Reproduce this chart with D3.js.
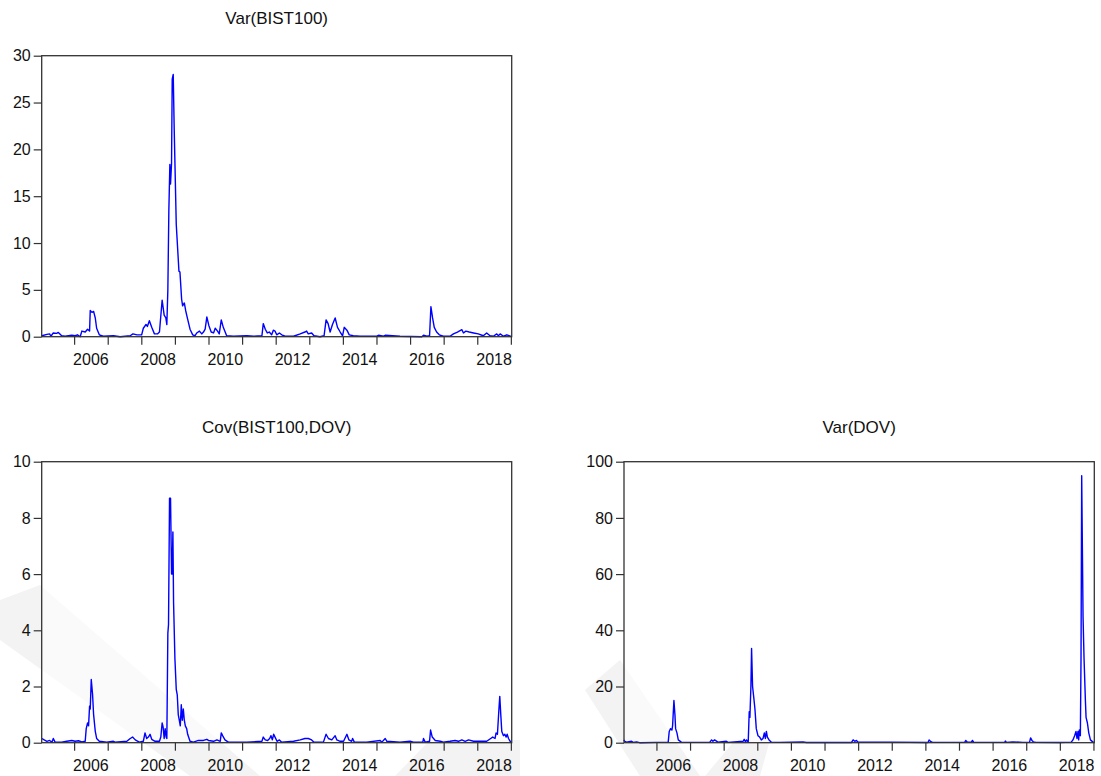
<!DOCTYPE html>
<html>
<head>
<meta charset="utf-8">
<script src="https://cdn.jsdelivr.net/npm/d3@7/dist/d3.min.js"></script>
<style>
  html, body { margin: 0; padding: 0; background: #fff; }
  svg { display: block; }
  text { font-family: "Liberation Sans", Arial, sans-serif; fill: #111; }
</style>
</head>
<body>
<svg id="chart" width="1101" height="776"></svg>
<script>
// ---------- data (decimal years) ----------
const varBistYears = [2005.04,2005.19,2005.27,2005.31,2005.38,2005.48,2005.53,2005.63,2005.73,2005.93,2006.03,2006.10,2006.18,2006.23,2006.33,2006.40,2006.46,2006.48,2006.53,2006.58,2006.63,2006.67,2006.75,2006.87,2007.17,2007.37,2007.67,2007.75,2007.87,2008.01,2008.06,2008.14,2008.18,2008.24,2008.31,2008.39,2008.48,2008.54,2008.62,2008.68,2008.73,2008.76,2008.79,2008.82,2008.85,2008.87,2008.90,2008.92,2008.95,2008.98,2009.04,2009.12,2009.15,2009.20,2009.23,2009.28,2009.32,2009.37,2009.45,2009.53,2009.60,2009.65,2009.73,2009.80,2009.85,2009.90,2009.95,2010.01,2010.08,2010.15,2010.20,2010.27,2010.32,2010.38,2010.44,2010.54,2010.74,2011.14,2011.34,2011.59,2011.63,2011.69,2011.75,2011.81,2011.88,2011.93,2011.98,2012.03,2012.11,2012.18,2012.28,2012.53,2012.73,2012.87,2012.92,2012.97,2013.07,2013.14,2013.32,2013.44,2013.50,2013.56,2013.62,2013.69,2013.77,2013.84,2013.92,2013.99,2014.04,2014.12,2014.19,2014.31,2014.51,2015.01,2015.06,2015.21,2015.26,2015.70,2016.35,2016.40,2016.50,2016.58,2016.62,2016.67,2016.72,2016.79,2016.87,2016.99,2017.19,2017.29,2017.41,2017.54,2017.59,2017.66,2017.76,2017.89,2018.03,2018.18,2018.28,2018.38,2018.48,2018.58,2018.63,2018.68,2018.78,2018.88,2019.02];
const varBistValues = [0.1,0.25,0.3,0.05,0.4,0.35,0.45,0.1,0.05,0.15,0.1,0.2,0.0,0.6,0.5,0.8,0.6,2.8,2.6,2.7,2.0,0.9,0.2,0.05,0.1,0.0,0.1,0.3,0.2,0.2,0.9,1.3,1.1,1.7,1.0,0.3,0.3,0.5,3.9,2.3,2.0,1.3,5.0,13.5,18.4,16.3,18.5,27.5,28.0,22.0,12.0,7.0,6.9,4.0,3.3,3.6,2.8,2.0,0.8,0.2,0.1,0.4,0.6,0.3,0.5,0.8,2.1,1.2,0.5,0.4,0.9,0.6,0.3,1.8,1.0,0.1,0.05,0.1,0.05,0.1,1.4,0.8,0.4,0.5,0.2,0.7,0.6,0.2,0.4,0.2,0.05,0.05,0.3,0.5,0.6,0.3,0.4,0.1,0.0,0.1,1.8,1.4,0.5,1.3,2.0,1.0,0.5,0.1,1.0,0.7,0.2,0.1,0.05,0.05,0.15,0.05,0.15,0.05,0.0,0.15,0.05,0.1,3.2,2.0,1.0,0.5,0.2,0.05,0.05,0.3,0.5,0.75,0.4,0.6,0.5,0.4,0.3,0.1,0.4,0.1,0.05,0.3,0.1,0.3,0.05,0.2,0.0];

const covYears = [2005.04,2005.11,2005.19,2005.27,2005.34,2005.38,2005.43,2005.63,2005.78,2005.93,2006.03,2006.13,2006.23,2006.33,2006.36,2006.40,2006.43,2006.46,2006.48,2006.51,2006.55,2006.58,2006.63,2006.67,2006.75,2006.97,2007.17,2007.22,2007.57,2007.67,2007.74,2007.82,2007.94,2008.06,2008.11,2008.16,2008.21,2008.26,2008.31,2008.41,2008.54,2008.58,2008.62,2008.65,2008.68,2008.71,2008.74,2008.76,2008.79,2008.81,2008.84,2008.87,2008.90,2008.92,2008.94,2008.96,2009.00,2009.04,2009.07,2009.10,2009.13,2009.16,2009.19,2009.22,2009.25,2009.28,2009.31,2009.35,2009.38,2009.45,2009.55,2009.70,2009.85,2009.95,2010.00,2010.15,2010.25,2010.35,2010.38,2010.42,2010.49,2010.59,2010.74,2011.14,2011.59,2011.63,2011.69,2011.76,2011.82,2011.86,2011.90,2011.94,2011.98,2012.04,2012.11,2012.18,2012.53,2012.73,2012.87,2012.97,2013.07,2013.14,2013.42,2013.50,2013.57,2013.67,2013.77,2013.82,2013.92,2014.02,2014.12,2014.18,2014.26,2014.29,2014.34,2014.71,2015.11,2015.16,2015.26,2015.31,2015.70,2016.00,2016.10,2016.38,2016.40,2016.45,2016.58,2016.61,2016.66,2016.75,2016.90,2016.99,2017.19,2017.34,2017.44,2017.54,2017.64,2017.74,2017.89,2018.08,2018.28,2018.40,2018.46,2018.53,2018.56,2018.60,2018.64,2018.67,2018.70,2018.73,2018.78,2018.82,2018.86,2018.89,2018.93,2018.98,2019.02];
const covValues = [0.15,0.1,0.05,0.08,0.02,0.15,0.03,0.02,0.05,0.08,0.05,0.07,0.03,0.05,0.5,0.7,0.6,1.3,1.2,2.25,1.7,1.0,0.4,0.15,0.05,0.02,0.05,0.02,0.05,0.15,0.2,0.1,0.02,0.05,0.35,0.15,0.2,0.3,0.12,0.05,0.05,0.2,0.7,0.55,0.15,0.5,0.2,0.15,3.9,4.2,8.7,8.7,6.0,6.0,7.5,5.0,3.0,1.9,1.7,1.0,0.8,0.6,1.35,0.8,1.2,0.8,0.6,0.5,0.3,0.05,0.02,0.08,0.08,0.12,0.08,0.05,0.1,0.05,0.35,0.25,0.1,0.02,0.02,0.02,0.05,0.2,0.1,0.08,0.15,0.25,0.1,0.3,0.2,0.05,0.1,0.02,0.05,0.1,0.15,0.15,0.1,0.02,0.02,0.3,0.15,0.1,0.25,0.1,0.05,0.05,0.3,0.1,0.05,0.15,0.02,0.02,0.08,0.02,0.15,0.05,0.02,0.05,0.02,0.02,0.15,0.02,0.05,0.45,0.2,0.08,0.05,0.02,0.05,0.08,0.05,0.1,0.05,0.1,0.05,0.05,0.05,0.15,0.2,0.15,0.35,0.3,1.1,1.65,1.0,0.4,0.25,0.3,0.2,0.3,0.15,0.05,0.0];

const varDovYears = [2005.03,2005.06,2005.11,2005.26,2005.31,2005.41,2005.50,2006.00,2006.35,2006.38,2006.42,2006.46,2006.48,2006.52,2006.55,2006.57,2006.61,2006.65,2006.74,2006.99,2007.59,2007.64,2007.68,2007.73,2007.83,2008.08,2008.13,2008.58,2008.61,2008.65,2008.68,2008.73,2008.76,2008.78,2008.81,2008.83,2008.86,2008.90,2008.93,2008.97,2009.02,2009.07,2009.12,2009.17,2009.21,2009.24,2009.27,2009.30,2009.35,2009.42,2009.67,2010.36,2010.46,2011.80,2011.85,2011.90,2011.95,2012.00,2012.94,2014.08,2014.11,2014.15,2014.21,2015.17,2015.20,2015.24,2015.37,2015.40,2015.44,2016.01,2016.36,2016.38,2016.41,2016.60,2016.90,2017.10,2017.13,2017.17,2017.21,2017.29,2017.99,2018.34,2018.39,2018.44,2018.48,2018.51,2018.54,2018.56,2018.58,2018.61,2018.63,2018.65,2018.67,2018.69,2018.72,2018.76,2018.78,2018.82,2018.86,2018.91,2018.98,2019.01];
const varDovValues = [1.0,0.5,0.2,0.5,0.1,0.3,0.0,0.1,0.2,4.0,5.0,4.5,6.0,15.0,10.0,5.0,3.5,1.0,0.2,0.1,0.2,1.0,0.5,1.0,0.2,0.5,0.1,0.5,1.2,0.3,1.0,0.2,11.0,9.0,20.0,33.5,20.0,15.5,12.0,5.0,2.5,2.0,1.0,1.5,3.5,1.5,4.0,2.0,1.0,0.2,0.1,0.3,0.05,0.05,1.0,0.5,0.8,0.2,0.2,0.05,1.0,0.5,0.1,0.1,0.8,0.3,0.2,0.8,0.1,0.1,0.1,0.6,0.1,0.3,0.1,0.2,1.7,0.8,0.3,0.1,0.05,0.2,1.0,2.5,4.0,1.5,4.0,1.0,4.5,2.5,30.0,95.0,70.0,45.0,30.0,15.0,9.0,7.0,3.5,1.0,0.3,0.1];

const panelTitles = ["Var(BIST100)", "Cov(BIST100,DOV)", "Var(DOV)"];
const yTickSets = [[0,5,10,15,20,25,30],[0,2,4,6,8,10],[0,20,40,60,80,100]];
const yMaxes = [30, 10, 100];
const xTickYears = [2006,2007,2008,2009,2010,2011,2012,2013,2014,2015,2016,2017,2018,2019];
const xLabelYears = [2006,2008,2010,2012,2014,2016,2018];

// ---------- layout ----------
const svg = d3.select("#chart");
const xDomain = [2005.035, 2019.025];

// faint background watermark (as in the scanned reference)
const wm = svg.append("g").attr("fill", "#f3f3f3");
wm.append("path").attr("d", "M0,600 L40,585 L260,776 L190,776 L0,640 Z");
wm.append("path").attr("d", "M585,690 L620,660 L700,776 L640,776 Z");
wm.append("path").attr("d", "M395,776 L430,740 L520,740 L520,776 Z");
wm.append("path").attr("d", "M705,776 L735,740 L770,740 L760,776 Z");

const panels = [
  {box:[41.7, 55.7, 511.7, 336.7], titleY: 24, years: varBistYears, values: varBistValues},
  {box:[41.7, 461.7, 511.7, 742.7], titleY: 433, years: covYears, values: covValues},
  {box:[624, 461.7, 1094.3, 742.7], titleY: 433, years: varDovYears, values: varDovValues}
];

panels.forEach((p, i) => {
  const [x0, y0, x1, y1] = p.box;
  const x = d3.scaleLinear().domain(xDomain).range([x0, x1]);
  const y = d3.scaleLinear().domain([0, yMaxes[i]]).range([y1, y0]);
  const g = svg.append("g");

  // plot background (white inside the frame)
  g.append("rect")
    .attr("x", x0).attr("y", y0).attr("width", x1 - x0).attr("height", y1 - y0)
    .attr("fill", "#fff").attr("fill-opacity", 0.6);

  // title
  g.append("text")
    .attr("x", (x0 + x1) / 2).attr("y", p.titleY)
    .attr("text-anchor", "middle").attr("font-size", 17)
    .text(panelTitles[i]);

  // y axis
  const ya = g.append("g").attr("transform", `translate(${x0},0)`)
    .call(d3.axisLeft(y).tickValues(yTickSets[i]).tickSize(8).tickPadding(3).tickFormat(d3.format("d")));
  ya.select(".domain").remove();
  ya.selectAll("line").attr("stroke", "#333").attr("stroke-width", 1.2);
  ya.selectAll("text").attr("font-size", 16).attr("font-family", "Liberation Sans, Arial, sans-serif").attr("fill", "#111");

  // x axis ticks
  const xa = g.append("g").attr("transform", `translate(0,${y1})`)
    .call(d3.axisBottom(x).tickValues(xTickYears.filter(t => t <= xDomain[1])).tickSize(8).tickFormat(""));
  xa.select(".domain").remove();
  xa.selectAll("line").attr("stroke", "#333").attr("stroke-width", 1.2);

  // x labels centered within year
  g.selectAll(".xl").data(xLabelYears).join("text")
    .attr("x", d => x(d + 0.5)).attr("y", y1 + 28)
    .attr("text-anchor", "middle").attr("font-size", 16)
    .text(d => d);

  // series line
  const pts = p.years.map((t, k) => [t, p.values[k]]);
  g.append("path")
    .datum(pts)
    .attr("fill", "none").attr("stroke", "#0000ff").attr("stroke-width", 1.4)
    .attr("stroke-linejoin", "round")
    .attr("d", d3.line().x(d => x(d[0])).y(d => y(d[1])));

  // frame
  g.append("rect")
    .attr("x", x0).attr("y", y0).attr("width", x1 - x0).attr("height", y1 - y0)
    .attr("fill", "none").attr("stroke", "#333").attr("stroke-width", 1.3);
});
</script>
</body>
</html>
